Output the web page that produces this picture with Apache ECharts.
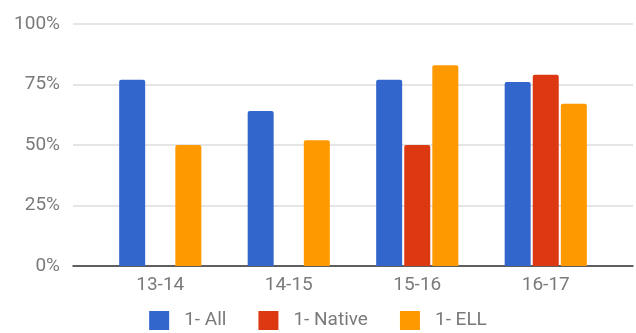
<!DOCTYPE html>
<html>
<head>
<meta charset="utf-8">
<script src="https://cdn.jsdelivr.net/npm/echarts@6/dist/echarts.min.js"></script>
<style>
  html, body { margin: 0; padding: 0; background: #fff; }
  #chart { width: 636px; height: 333px; }
</style>
</head>
<body>
<div id="chart"></div>
<script>
// School years on the x axis
const years = ['13-14', '14-15', '15-16', '16-17'];

// Share of students per group (fraction, 1 = 100%)
const allStudents = [0.77, 0.64, 0.77, 0.76];
const nativeStudents = [null, null, 0.50, 0.79];
const ellStudents = [0.50, 0.52, 0.83, 0.67];

// Value-axis ticks
const yTicks = [0, 0.25, 0.5, 0.75, 1];

const labelGray = '#7a7a7a';
const fontFamily = 'Roboto, "Noto Sans", Arial, sans-serif';

const chart = echarts.init(document.getElementById('chart'), null, { renderer: 'canvas' });

function barSeries(name, data, color) {
  return {
    name: name,
    type: 'bar',
    xAxisIndex: 0,
    yAxisIndex: 0,
    data: data,
    barWidth: 26,
    barGap: '8%',
    itemStyle: { color: color, borderRadius: [2, 2, 0, 0] },
    emphasis: { disabled: true }
  };
}

chart.setOption({
  animation: false,
  textStyle: { fontFamily: fontFamily },
  legend: {
    top: 311,
    left: 'center',
    padding: 0,
    itemWidth: 20,
    itemHeight: 19,
    itemGap: 32,
    icon: 'rect',
    textStyle: { color: labelGray, fontSize: 19, fontFamily: fontFamily, padding: [0, 0, 0, 10] },
    data: ['1- All', '1- Native', '1- ELL']
  },
  grid: [
    // bars
    { left: 96, right: 26, top: 24, bottom: 67 },
    // frame: gridlines, value labels and baseline across the full width
    { left: 73, right: 3, top: 24, bottom: 67 }
  ],
  xAxis: [
    {
      type: 'category',
      gridIndex: 0,
      data: years,
      axisLine: { show: false },
      axisTick: { show: false },
      axisLabel: { color: labelGray, fontSize: 19, margin: 10 }
    },
    {
      type: 'value',
      gridIndex: 1,
      min: 0,
      max: 1,
      axisLine: { show: true, lineStyle: { color: '#333', width: 1.5 } },
      axisTick: { show: false },
      axisLabel: { show: false },
      splitLine: { show: false }
    }
  ],
  yAxis: [
    {
      type: 'value',
      gridIndex: 0,
      min: 0,
      max: 1,
      interval: 0.25,
      axisLine: { show: false },
      axisTick: { show: false },
      axisLabel: { show: false },
      splitLine: { show: false }
    },
    {
      type: 'value',
      gridIndex: 1,
      min: yTicks[0],
      max: yTicks[yTicks.length - 1],
      interval: 0.25,
      axisLine: { show: false },
      axisTick: { show: false },
      axisLabel: {
        color: labelGray,
        fontSize: 19,
        margin: 13,
        formatter: v => Math.round(v * 100) + '%'
      },
      splitLine: { show: true, lineStyle: { color: '#dddddd', width: 1.5 } }
    }
  ],
  series: [
    barSeries('1- All', allStudents, '#3366cc'),
    barSeries('1- Native', nativeStudents, '#dc3912'),
    barSeries('1- ELL', ellStudents, '#ff9900')
  ]
});
</script>
</body>
</html>
